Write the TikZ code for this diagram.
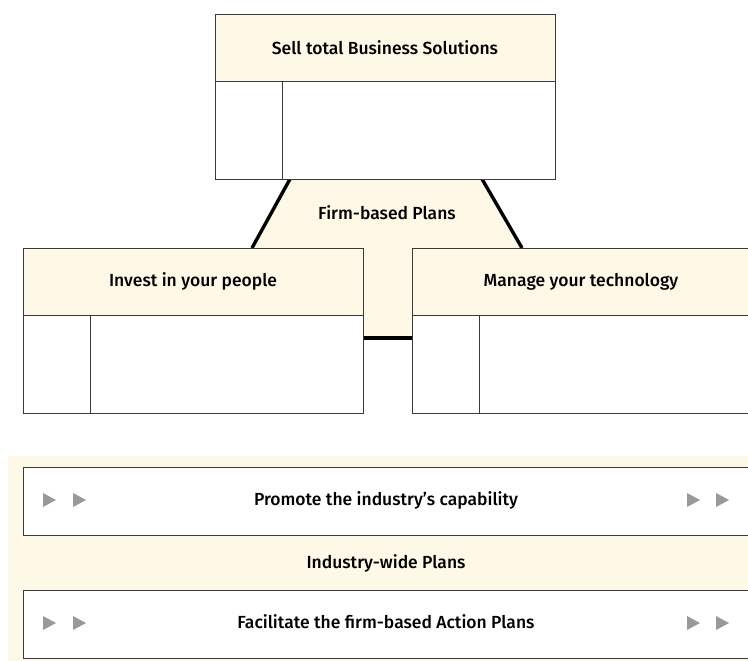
\documentclass[tikz,border=0pt]{standalone}
\usepackage{fontspec}
\setmainfont{Fira Sans}[UprightFont={* Medium}]
\usetikzlibrary{positioning}
\definecolor{krem}{HTML}{FEF8E6}
\definecolor{cizgi}{HTML}{3A3A3A}
\definecolor{okGri}{HTML}{999999}

\tikzset{
  baslik/.style={draw=cizgi,fill=krem,line width=0.8pt,inner sep=0pt,outer sep=0pt,
    anchor=north west,minimum height=67pt,font=\fontsize{17.5}{21}\selectfont},
  hucre/.style={draw=cizgi,fill=white,line width=0.8pt,inner sep=0pt,outer sep=0pt,
    anchor=north west},
  serit/.style={draw=cizgi,fill=white,line width=0.8pt,inner sep=0pt,outer sep=0pt,
    anchor=north west,minimum width=740pt,minimum height=68pt},
  yazi/.style={font=\fontsize{17.5}{21}\selectfont},
  kalin/.style={line width=3.4pt,black}
}

\begin{document}
\begin{tikzpicture}[x=1pt,y=-1pt]
\useasboundingbox (0,0) rectangle (748,661);

% firm-based trapezoid with its stem
\fill[krem] (290,180) -- (482,180) -- (522,248) -- (412,248) -- (412,338)
  -- (363,338) -- (363,248) -- (252,248) -- cycle;
\draw[kalin] (290,179) -- (252,248);
\draw[kalin] (482,179) -- (522,248);
\draw[kalin] (363,338) -- (412,338);
\node[yazi] (firm) at (387,213) {Firm-based Plans};

% top box
\node[baslik,minimum width=340pt] (sellHead) at (215,14) {Sell total Business Solutions};
\node[hucre,minimum width=67pt,minimum height=98pt] (sellCell) at (sellHead.south west) {};
\node[hucre,minimum width=273pt,minimum height=98pt] (sellBody) at (sellCell.north east) {};

% left box
\node[baslik,minimum width=340pt] (peopleHead) at (23,248) {Invest in your people};
\node[hucre,minimum width=67pt,minimum height=98pt] (peopleCell) at (peopleHead.south west) {};
\node[hucre,minimum width=273pt,minimum height=98pt] (peopleBody) at (peopleCell.north east) {};

% right box
\node[baslik,minimum width=338pt] (techHead) at (412,248) {Manage your technology};
\node[hucre,minimum width=67pt,minimum height=98pt] (techCell) at (techHead.south west) {};
\node[hucre,minimum width=271pt,minimum height=98pt] (techBody) at (techCell.north east) {};

% industry-wide panel
\fill[krem] (8,456) rectangle (760,661);
\node[serit] (promote) at (23,467) {};
\node[yazi] at (386,500) {Promote the industry’s capability};
\node[yazi] (industry) at (386,563) {Industry-wide Plans};
\node[serit] (facilitate) at (23,590) {};
\node[yazi] at (386,622) {Facilitate the firm-based Action Plans};

% play marks
\foreach \y in {500,623}{
  \foreach \x in {43,73,687,716}{
    \fill[okGri] (\x,\y-7) -- (\x+13,\y) -- (\x,\y+7) -- cycle;
  }
}
\end{tikzpicture}
\end{document}
